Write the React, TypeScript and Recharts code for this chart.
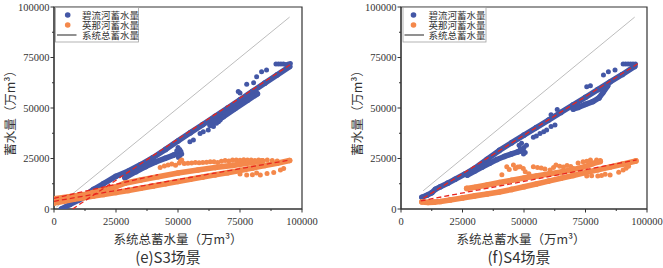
import React from 'react';
import { ScatterChart, Scatter, XAxis, YAxis, ReferenceArea } from 'recharts';

const BLUE = '#4357a6';
const ORANGE = '#f4884b';
const RED = '#e8261f';
const GRAY = '#bdbdbd';
const AXIS = '#333333';
const CJK = '"Noto Sans CJK SC", "Noto Sans", sans-serif';
const SERIF = '"Liberation Serif", "DejaVu Serif", serif';

type P = [number, number];
const toPts = (a: P[]) => a.map(([x, y]) => ({ x, y }));

const xTicks = [0, 12500, 25000, 37500, 50000, 62500, 75000, 87500, 100000];
const yTicks = [0, 12500, 25000, 37500, 50000, 62500, 75000, 87500, 100000];

// ---------- (e) S3 ----------
const s3BlueBand: P[] = [[3000, 0], [6500, 2300], [10000, 4500], [12000, 5800], [14000, 8000], [16000, 9700], [20000, 12600], [25000, 16200], [30000, 18800], [35000, 22000], [40000, 25500], [45000, 29500], [50000, 33700], [55000, 37800], [60000, 41800], [65000, 45900], [70000, 50000], [75000, 54100], [80000, 58200], [85000, 62300], [90000, 66400], [95000, 70500]];
const s3BlueLowerBand: P[] = [[63000, 41500], [68000, 45500], [73000, 49700], [78000, 53800], [82000, 57000]];
const s3BlueTongue: P[] = [[28600, 15500], [33000, 18500], [37000, 21000], [41000, 23300], [44800, 25100], [48000, 26600], [50100, 27500]];
const s3BlueDots: P[] = [[50200, 25500], [50800, 26500], [51200, 28500], [50700, 29500], [50000, 30500], [49500, 28800], [51500, 27200], [54800, 33300], [56200, 34100], [58900, 37400], [60200, 38300], [62200, 39100], [64300, 40800], [66300, 43200], [67000, 44100], [68300, 45700], [65500, 42500], [66800, 44000], [74300, 58200], [75000, 57400], [77700, 61800], [81700, 65500], [83700, 68000], [85700, 68800], [80500, 62500], [89500, 71800], [90500, 71800], [91500, 71800], [92500, 71800], [93500, 71500], [94500, 71800], [95300, 72000]];
const s3OrangeBand: P[] = [[0, 3000], [4000, 3900], [8000, 4800], [12000, 5600], [16000, 6400], [20000, 7200], [25000, 8200], [30000, 9200], [35000, 10300], [40000, 11400], [45000, 12500], [50000, 13600], [55000, 14700], [60000, 15800], [65000, 16900], [70000, 18000], [75000, 19100], [80000, 20300], [85000, 21500], [90000, 22700], [95000, 24000]];
const s3OrangeUpperBand: P[] = [[0, 5000], [6000, 6000], [13000, 7300], [20000, 9500], [25000, 11000], [28600, 12800], [35000, 14300], [42000, 16000], [50000, 17800], [58000, 19300], [65000, 20500], [72000, 21600], [80000, 23000], [84000, 23800]];
const s3OrangeDots: P[] = [[42800, 20600], [44500, 21300], [46000, 21800], [47500, 22300], [49000, 21600], [50500, 22800], [51000, 23800], [51500, 24300], [52500, 22500], [54000, 22600], [55500, 22800], [57000, 23000], [58500, 22900], [60000, 23000], [61500, 23200], [63000, 23400], [64500, 23400], [66000, 23000], [67500, 23600], [69000, 24000], [70500, 23800], [72000, 24200], [73500, 24300], [75000, 24100], [76500, 24400], [78000, 24300], [79500, 24200], [81000, 24000], [82500, 24300], [84000, 23900], [86000, 24200], [88000, 24000], [90000, 23800], [75000, 17300], [77700, 16800], [80000, 17000], [81700, 17800], [83200, 16800], [85900, 17600], [88600, 18100], [91300, 19300], [92600, 20100]];
const s3BlueFit: P[] = [[7500, 0], [95900, 72000]];
const s3OrangeFit: P[] = [[0, 3800], [95300, 24300]];
const s3OrangeFit2: P[] = [[0, 5300], [42000, 17000]];
const s3Total: P[] = [[1000, 1000], [95000, 95000]];

// ---------- (f) S4 ----------
const s4BlueBand: P[] = [[8500, 5800], [10500, 6800], [12500, 8000], [14000, 9800], [16000, 11000], [19000, 12800], [22000, 14700], [26000, 17300], [30000, 20200], [35000, 24600], [40000, 29000], [45000, 32800], [50000, 36600], [55000, 40300], [60000, 44000], [65000, 47800], [70000, 51600], [75000, 55300], [80000, 59100], [85000, 62900], [90000, 66600], [95000, 70600]];
const s4BlueLoop: P[] = [[70000, 49500], [72000, 50300], [75000, 51800], [78000, 53200], [80500, 55000], [82000, 57500], [84000, 61000]];
const s4BlueTongue: P[] = [[27000, 16800], [30000, 18800], [33000, 20800], [36000, 22700], [39000, 24500], [42000, 26000], [45000, 27300], [47500, 28300], [49500, 29000]];
const s4BlueDots: P[] = [[48000, 31500], [49000, 32500], [50000, 30500], [50500, 28000], [49800, 27200], [48500, 30000], [51000, 31500], [53800, 35500], [55000, 36200], [56500, 37400], [58000, 38200], [59200, 39100], [61000, 40800], [62600, 41600], [61000, 46600], [63500, 49300], [75500, 60500], [77000, 61000], [82300, 66300], [84300, 68000], [87000, 68800], [90300, 71800], [91300, 71800], [92300, 71800], [93300, 71800], [94300, 71800], [95300, 71800]];
const s4OrangeBand: P[] = [[8500, 3500], [11000, 3300], [13500, 3400], [16000, 3700], [20000, 4500], [25000, 5500], [30000, 6500], [35000, 7400], [40000, 8400], [45000, 9700], [50000, 11000], [55000, 12400], [60000, 13800], [65000, 15200], [70000, 16600], [75000, 18000], [80000, 19400], [85000, 20800], [90000, 22200], [95500, 23800]];
const s4OrangeUpperBand: P[] = [[26700, 10200], [30000, 10800], [35000, 11900], [40000, 13100], [45000, 14200], [50000, 15300], [55000, 16300], [60000, 17300], [65000, 18300], [70000, 19500], [75000, 21000], [78000, 22500], [81000, 23500]];
const s4OrangeDots: P[] = [[41000, 17000], [43000, 20900], [44000, 19500], [45700, 21800], [46500, 20000], [47500, 20800], [48400, 20900], [49700, 20000], [50500, 18500], [52000, 17500], [53800, 20900], [55500, 20500], [57000, 20300], [58500, 19800], [60600, 19300], [62000, 20500], [63000, 21800], [64500, 21200], [66000, 20800], [67500, 21500], [69000, 21000], [70000, 20100], [72000, 22800], [74000, 23400], [75500, 23700], [77000, 24200], [79500, 24300], [81000, 24000], [75500, 16300], [77500, 16500], [80000, 16300], [81500, 16600], [83000, 17200], [85000, 16800], [88500, 18200], [90300, 19300], [91500, 20200], [92500, 21200]];
const s4BlueFit: P[] = [[9100, 5300], [96500, 72100]];
const s4OrangeFit: P[] = [[8000, 4000], [95800, 24300]];
const s4Total: P[] = [[9000, 9000], [95000, 95000]];

const XTick = (props: any) => {
  const { x, y, payload } = props;
  const major = payload.value % 25000 === 0;
  return (
    <g>
      <line x1={x} x2={x} y1={y} y2={y + (major ? 3.5 : 2)} stroke={AXIS} strokeWidth={1} />
      {major && (
        <text x={x} y={y + 15.5} textAnchor="middle" fontSize={10.5} fontFamily={SERIF} fill={AXIS}>
          {payload.value}
        </text>
      )}
    </g>
  );
};

const YTick = (props: any) => {
  const { x, y, payload } = props;
  const major = payload.value % 25000 === 0;
  return (
    <g>
      <line x1={x} x2={x - (major ? 3.5 : 2)} y1={y} y2={y} stroke={AXIS} strokeWidth={1} />
      {major && (
        <text x={x - 4.5} y={y + 3.7} textAnchor="end" fontSize={10.5} fontFamily={SERIF} fill={AXIS}>
          {payload.value}
        </text>
      )}
    </g>
  );
};

const dot = (color: string, r: number) => (p: any) => <circle cx={p.cx} cy={p.cy} r={r} fill={color} />;
const noDot = () => <g />;

type PanelProps = {
  width: number;
  marginLeft: number;
  marginRight: number;
  blueBands: P[][];
  blueDots: P[];
  orangeBands: P[][];
  orangeDots: P[];
  fits: P[][];
  total: P[];
};

function Panel(props: PanelProps) {
  const { width, marginLeft, marginRight, blueBands, blueDots, orangeBands, orangeDots, fits, total } = props;
  return (
    <ScatterChart width={width} height={268} margin={{ top: 7, right: marginRight, bottom: 29, left: marginLeft }}>
      <XAxis type="number" dataKey="x" domain={[0, 100000]} ticks={xTicks} interval={0} tick={(p: any) => <XTick {...p} />} tickLine={false} tickSize={0} tickMargin={0} axisLine={{ stroke: AXIS }} height={30} allowDataOverflow />
      <YAxis type="number" dataKey="y" domain={[0, 100000]} ticks={yTicks} interval={0} tick={(p: any) => <YTick {...p} />} tickLine={false} tickSize={0} tickMargin={0} axisLine={{ stroke: AXIS }} width={44} allowDataOverflow />
      <Scatter data={toPts(total)} shape={noDot} line={{ stroke: GRAY, strokeWidth: 1 }} isAnimationActive={false} />
      {blueBands.map((b, i) => (
        <Scatter key={'bb' + i} data={toPts(b)} shape={dot(BLUE, 2.8)} line={{ stroke: BLUE, strokeWidth: 5.6, strokeLinejoin: 'round', strokeLinecap: 'round' }} isAnimationActive={false} />
      ))}
      <Scatter data={toPts(blueDots)} shape={dot(BLUE, 2.5)} isAnimationActive={false} />
      {orangeBands.map((b, i) => (
        <Scatter key={'ob' + i} data={toPts(b)} shape={dot(ORANGE, 2.8)} line={{ stroke: ORANGE, strokeWidth: 5.6, strokeLinejoin: 'round', strokeLinecap: 'round' }} isAnimationActive={false} />
      ))}
      <Scatter data={toPts(orangeDots)} shape={dot(ORANGE, 2.5)} isAnimationActive={false} />
      {fits.map((f, i) => (
        <Scatter key={'f' + i} data={toPts(f)} shape={noDot} line={{ stroke: RED, strokeWidth: 1.3, strokeDasharray: '5 3' }} isAnimationActive={false} />
      ))}
      <ReferenceArea x1={0} x2={100000} y1={0} y2={100000} fill="none" fillOpacity={0} stroke={AXIS} strokeWidth={1.2} />
    </ScatterChart>
  );
}

function LegendBox({ x, textX, circleX }: { x: number; textX: number; circleX: number }) {
  const txt = { fontSize: 9.5, fontFamily: CJK, fill: AXIS, dominantBaseline: 'central' as any };
  return (
    <g>
      <rect x={x} y={7.5} width={83} height={34.5} fill="#fff" stroke="#a0a0a0" strokeWidth={0.8} />
      <circle cx={circleX} cy={15} r={2.8} fill={BLUE} />
      <circle cx={circleX} cy={25} r={2.8} fill={ORANGE} />
      <line x1={x + 1.5} x2={x + 21} y1={35} y2={35} stroke="#555" strokeWidth={1.3} />
      <text x={textX} y={15} {...txt}>碧流河蓄水量</text>
      <text x={textX} y={25} {...txt}>英那河蓄水量</text>
      <text x={textX} y={35} {...txt}>系统总蓄水量</text>
    </g>
  );
}

export default function App() {
  const ttl = { fontFamily: CJK, fill: AXIS, textAnchor: 'middle' as any, dominantBaseline: 'central' as any };
  return (
    <div style={{ position: 'absolute', left: 0, top: 0, width: 663, height: 268, background: '#fff', overflow: 'hidden' }}>
      <div style={{ position: 'absolute', left: 0, top: 0 }}>
        <Panel width={330} marginLeft={10} marginRight={28}
          blueBands={[s3BlueBand, s3BlueLowerBand, s3BlueTongue]} blueDots={s3BlueDots}
          orangeBands={[s3OrangeBand, s3OrangeUpperBand]} orangeDots={s3OrangeDots}
          fits={[s3BlueFit, s3OrangeFit, s3OrangeFit2]} total={s3Total} />
      </div>
      <div style={{ position: 'absolute', left: 330, top: 0 }}>
        <Panel width={333} marginLeft={27} marginRight={16}
          blueBands={[s4BlueBand, s4BlueLoop, s4BlueTongue]} blueDots={s4BlueDots}
          orangeBands={[s4OrangeBand, s4OrangeUpperBand]} orangeDots={s4OrangeDots}
          fits={[s4BlueFit, s4OrangeFit]} total={s4Total} />
      </div>
      <svg width={663} height={268} style={{ position: 'absolute', left: 0, top: 0, pointerEvents: 'none' }}>
        <LegendBox x={55.5} textX={82} circleX={67.7} />
        <LegendBox x={403} textX={428.5} circleX={413.5} />
        <text transform="translate(9,110) rotate(-90)" fontSize={12.5} {...ttl}>蓄水量（万m³）</text>
        <text transform="translate(356,110) rotate(-90)" fontSize={12.5} {...ttl}>蓄水量（万m³）</text>
        <text x={178} y={238} fontSize={12.5} {...ttl}>系统总蓄水量（万m³）</text>
        <text x={521} y={238} fontSize={12.5} {...ttl}>系统总蓄水量（万m³）</text>
        <text x={168} y={256.5} fontSize={15} {...ttl}>(e)S3场景</text>
        <text x={519} y={256.5} fontSize={15} {...ttl}>(f)S4场景</text>
      </svg>
    </div>
  );
}
